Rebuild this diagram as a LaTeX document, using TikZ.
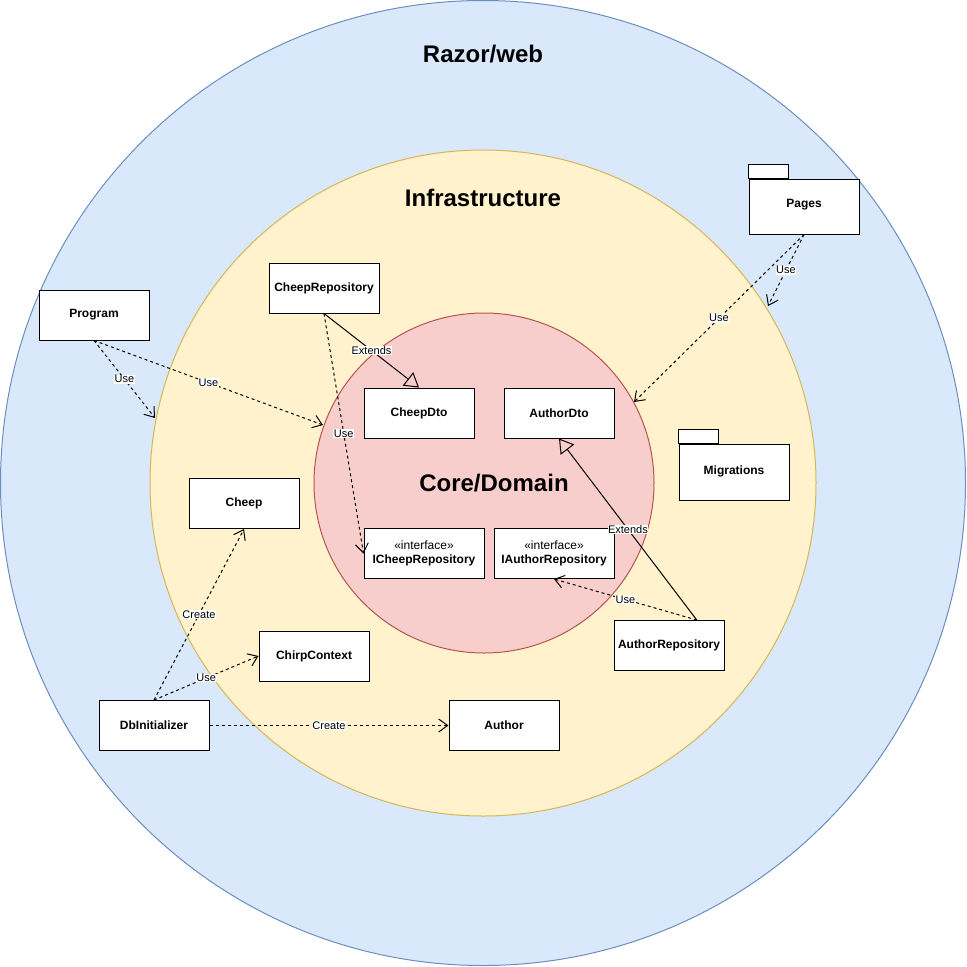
\documentclass[tikz,border=0pt]{standalone}
\usepackage{fontspec}
\setmainfont{Liberation Sans}
\usepackage{xcolor}
\usetikzlibrary{arrows.meta,calc}
\definecolor{webfill}{HTML}{DAE8FC}
\definecolor{webline}{HTML}{6C8EBF}
\definecolor{infrafill}{HTML}{FFF2CC}
\definecolor{infraline}{HTML}{D6B656}
\definecolor{corefill}{HTML}{F8CECC}
\definecolor{coreline}{HTML}{B85450}

\begin{document}
\begin{tikzpicture}[
  x=1pt, y=-1pt, line width=1pt,
  box/.style={rectangle,draw,fill=white,minimum width=110pt,minimum height=50pt,
    inner sep=0pt,font=\bfseries\fontsize{12}{14}\selectfont},
  ibox/.style={box,minimum width=120pt,align=center},
  title/.style={font=\bfseries\fontsize{24}{28}\selectfont},
  use/.style={draw,dashed,-{Straight Barb[length=9pt,width=13pt]}},
  ext/.style={draw,-{Triangle[open,length=14pt,width=17pt]}},
  lbl/.style={midway,fill=white,inner sep=0.5pt,font=\fontsize{11}{13}\selectfont}
]
  \useasboundingbox (0,0) rectangle (967,967);
  \draw[fill=webfill,draw=webline] (483,483) circle (482.5);
  \draw[fill=infrafill,draw=infraline] (483,483) circle (333);
  \draw[fill=corefill,draw=coreline] (484,483) circle (170);

  \node[title] (webTitle) at (483,54) {Razor/web};
  \node[title] (infraTitle) at (483,198) {Infrastructure};
  \node[title] (coreTitle) at (494,483) {Core/Domain};

  \node[box] (program) at (94,315) {Program};
  \node[box] (cheepRepo) at (324,288) {CheepRepository};
  \node[box] (cheepDto) at (419,413) {CheepDto};
  \node[box] (authorDto) at (559,413) {AuthorDto};
  \node[box,minimum height=55pt,text depth=7pt] (pages) at (804,206.5) {Pages};
  \node[box,minimum height=56pt,text depth=4pt] (migrations) at (734,472) {Migrations};
  \draw[fill=white,line width=0.8pt] (pages.north west) rectangle ++(40,-14);
  \draw[fill=white,line width=0.8pt] (migrations.north west) rectangle ++(40,-14);
  \node[ibox] (iCheepRepo) at (424,553.5) {{\mdseries«interface»}\\ICheepRepository};
  \node[ibox] (iAuthorRepo) at (554,553.5) {{\mdseries«interface»}\\IAuthorRepository};
  \node[box] (authorRepo) at (669,645.5) {AuthorRepository};
  \node[box] (cheep) at (244,503.5) {Cheep};
  \node[box] (chirpContext) at (314,656) {ChirpContext};
  \node[box] (dbInit) at (154,725.5) {DbInitializer};
  \node[box] (author) at (504,725.5) {Author};

  \coordinate (infraEdgeW) at (155,418);
  \coordinate (coreEdgeW) at (323,425);
  \coordinate (infraEdgeE) at (768,306);
  \coordinate (coreEdgeE) at (634,402);
  \coordinate (authorRepoTop) at ($(authorRepo.north)!0.5!(authorRepo.north east)$);

  \draw[use] (program.south) -- (infraEdgeW) node[lbl] {Use};
  \draw[use] (program.south) -- (coreEdgeW) node[lbl] {Use};
  \draw[ext] (cheepRepo.south) -- (cheepDto.north) node[lbl] {Extends};
  \draw[use] (cheepRepo.south) -- (iCheepRepo.west) node[lbl] {Use};
  \draw[use] (pages.south) -- (infraEdgeE) node[lbl] {Use};
  \draw[use] (pages.south) -- (coreEdgeE) node[lbl] {Use};
  \draw[ext] (authorRepoTop) -- (authorDto.south) node[lbl] {Extends};
  \draw[use] (authorRepoTop) -- (iAuthorRepo.south) node[lbl] {Use};
  \draw[use] (dbInit.north) -- (cheep.south) node[lbl] {Create};
  \draw[use] (dbInit.north) -- (chirpContext.west) node[lbl] {Use};
  \draw[use] (dbInit.east) -- (author.west) node[lbl] {Create};
\end{tikzpicture}
\end{document}
